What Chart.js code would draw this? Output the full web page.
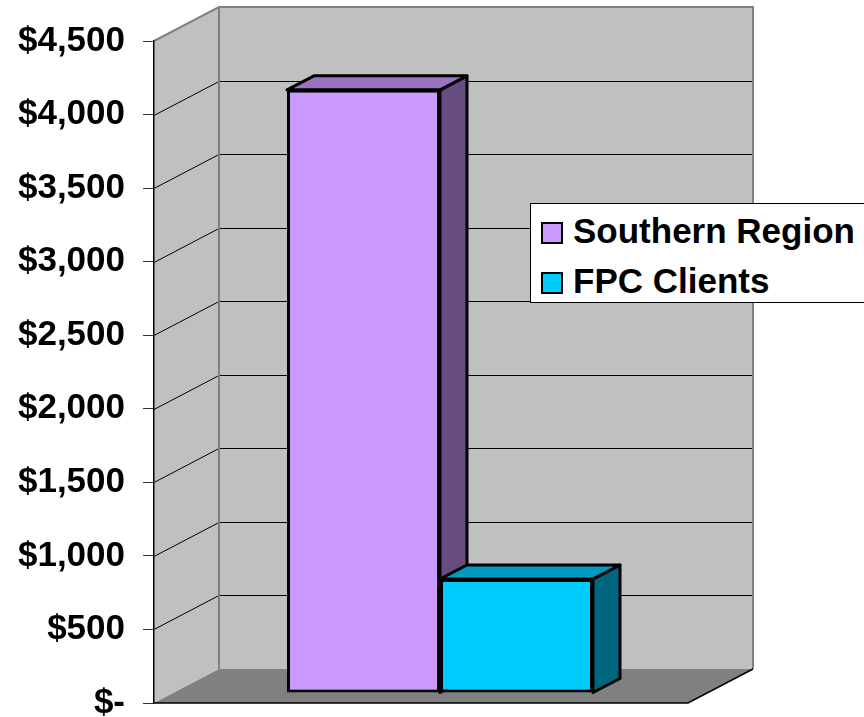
<!DOCTYPE html>
<html>
<head>
<meta charset="utf-8">
<script src="https://cdn.jsdelivr.net/npm/chart.js@4/dist/chart.umd.min.js"></script>
<style>
    body { margin: 0; background: #fff; }
    #wrap { position: relative; width: 864px; height: 717px; overflow: hidden; }
    #legend {
        position: absolute; left: 530px; top: 203px; width: 340px; height: 100px;
        background: #fff; border: 1px solid #000; box-sizing: border-box;
        font: bold 35px "Liberation Sans", Arial, sans-serif; color: #000;
    }
    .item { position: absolute; left: 10px; height: 40px; line-height: 40px; white-space: nowrap; }
    .swatch { display: inline-block; width: 18px; height: 18px; border: 2px solid #000; vertical-align: -1px; margin-right: 10px; }
</style>
</head>
<body>
<div id="wrap">
    <canvas id="chart" width="864" height="717"></canvas>
    <div id="legend"></div>
</div>
<script>
// Chart data
const categories = [''];
const seriesNames = ['Southern Region', 'FPC Clients'];
const southernRegion = [4100];
const fpcClients = [775];
const yTickValues = [0, 500, 1000, 1500, 2000, 2500, 3000, 3500, 4000, 4500];
const yTickLabels = ['$-', '$500', '$1,000', '$1,500', '$2,000', '$2,500', '$3,000', '$3,500', '$4,000', '$4,500'];

const frontColors = ['#cc99ff', '#00ccff'];
const topColors = ['#9973bf', '#0099bf'];
const sideColors = ['#664c80', '#006680'];

// depth of the walls and of the bars
const wallDx = 65, wallDy = -34;
const barShiftX = 19, barShiftY = -10;
const barDx = 27, barDy = -14;

function poly(ctx, pts, fill, stroke, lw) {
    ctx.beginPath();
    ctx.moveTo(pts[0][0], pts[0][1]);
    for (let i = 1; i < pts.length; i++) ctx.lineTo(pts[i][0], pts[i][1]);
    ctx.closePath();
    if (fill) { ctx.fillStyle = fill; ctx.fill(); }
    if (stroke) { ctx.strokeStyle = stroke; ctx.lineWidth = lw; ctx.stroke(); }
}

const box3d = {
    id: 'box3d',
    beforeDraw(chart) {
        const ctx = chart.ctx;
        const a = chart.chartArea;
        const y = chart.scales.y;
        const L = a.left, R = a.right, T = y.getPixelForValue(4500), B = y.getPixelForValue(0);
        ctx.save();
        // left wall, back wall, floor
        poly(ctx, [[L, T], [L + wallDx, T + wallDy], [L + wallDx, B + wallDy], [L, B]], '#c0c0c0');
        poly(ctx, [[L + wallDx, T + wallDy], [R + wallDx, T + wallDy], [R + wallDx, B + wallDy], [L + wallDx, B + wallDy]], '#c0c0c0');
        poly(ctx, [[L, B], [L + wallDx, B + wallDy], [R + wallDx, B + wallDy], [R, B]], '#808080');

        // gridlines
        ctx.strokeStyle = '#000';
        ctx.lineWidth = 1;
        yTickValues.forEach(v => {
            if (v === 0 || v === 4500) return;
            const py = Math.round(y.getPixelForValue(v)) + 0.5;
            ctx.beginPath();
            ctx.moveTo(L, py);
            ctx.lineTo(L + wallDx, py + wallDy);
            ctx.lineTo(R + wallDx, py + wallDy);
            ctx.stroke();
        });

        // wall edges
        ctx.strokeStyle = '#808080';
        ctx.lineWidth = 2;
        ctx.beginPath();
        ctx.moveTo(L, T);
        ctx.lineTo(L + wallDx, T + wallDy);
        ctx.lineTo(R + wallDx, T + wallDy);
        ctx.lineTo(R + wallDx, B + wallDy);
        ctx.moveTo(L + wallDx, T + wallDy);
        ctx.lineTo(L + wallDx, B + wallDy);
        ctx.stroke();

        // floor front edges
        ctx.strokeStyle = '#000';
        ctx.lineWidth = 1.5;
        ctx.beginPath();
        ctx.moveTo(L, B);
        ctx.lineTo(R, B);
        ctx.lineTo(R + wallDx, B + wallDy);
        ctx.stroke();
        ctx.restore();
    },
    beforeDatasetsDraw(chart) {
        const ctx = chart.ctx;
        ctx.save();
        ctx.lineJoin = 'round';
        chart.data.datasets.forEach((ds, i) => {
            chart.getDatasetMeta(i).data.forEach(bar => {
                const l = bar.x - bar.width / 2 + barShiftX;
                const r = bar.x + bar.width / 2 + barShiftX;
                const t = bar.y + barShiftY;
                const b = bar.base + barShiftY;
                poly(ctx, [[r, t], [r + barDx, t + barDy], [r + barDx, b + barDy], [r, b]], sideColors[i], '#000', 3);
                poly(ctx, [[l, t], [l + barDx, t + barDy], [r + barDx, t + barDy], [r, t]], topColors[i], '#000', 3);
            });
        });
        ctx.restore();
        // front faces are drawn by Chart.js, shifted into the bar plane
        ctx.save();
        ctx.translate(barShiftX, barShiftY);
    },
    afterDatasetsDraw(chart) {
        chart.ctx.restore();
    }
};

const ctx = document.getElementById('chart').getContext('2d');
const chart = new Chart(ctx, {
    type: 'bar',
    data: {
        labels: categories,
        datasets: [
            { label: seriesNames[0], data: southernRegion, backgroundColor: frontColors[0] },
            { label: seriesNames[1], data: fpcClients, backgroundColor: frontColors[1] }
        ]
    },
    options: {
        responsive: false,
        animation: false,
        layout: { padding: { left: 0, top: 41, right: 176, bottom: 14 } },
        datasets: {
            bar: {
                borderColor: '#000',
                borderWidth: 3,
                borderSkipped: false,
                barPercentage: 1,
                categoryPercentage: 0.573,
                clip: false
            }
        },
        plugins: {
            legend: { display: false },
            tooltip: { enabled: false }
        },
        scales: {
            x: { display: false },
            y: {
                min: 0,
                max: 4500,
                afterFit(scale) {
                    scale.width = 154;
                    scale.paddingTop = 0;
                    scale.paddingBottom = 0;
                },
                ticks: {
                    stepSize: 500,
                    padding: 18,
                    color: '#000',
                    font: { family: '"Liberation Sans", Arial, sans-serif', size: 35, weight: 'bold' },
                    callback: (value) => yTickLabels[yTickValues.indexOf(value)]
                },
                grid: {
                    drawOnChartArea: false,
                    drawTicks: true,
                    tickLength: 11,
                    color: '#333',
                    lineWidth: 1
                },
                border: { display: true, color: '#000', width: 1.5 }
            }
        }
    },
    plugins: [box3d]
});

// legend
const legend = document.getElementById('legend');
seriesNames.forEach((name, i) => {
    const item = document.createElement('div');
    item.className = 'item';
    item.style.top = (7 + i * 50) + 'px';
    item.innerHTML = '<span class="swatch" style="background:' + frontColors[i] + '"></span>' + name;
    legend.appendChild(item);
});
</script>
</body>
</html>
